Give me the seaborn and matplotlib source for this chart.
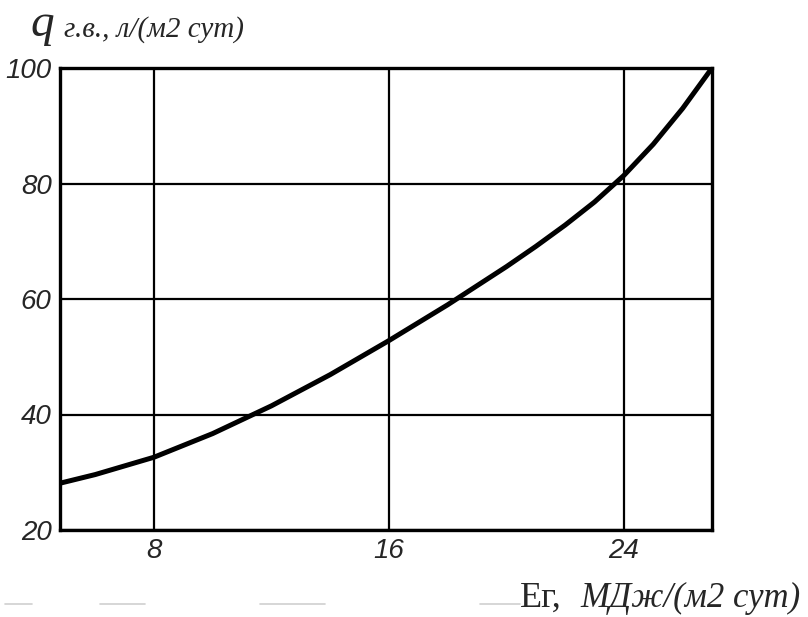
import numpy as np
import pandas as pd
import matplotlib
matplotlib.use("Agg")
import matplotlib.pyplot as plt
import seaborn as sns
from matplotlib.lines import Line2D

# values
energy = [4.8, 6.0, 8.0, 10.0, 12.0, 14.0, 16.0, 18.0, 20.0, 21.0,
          22.0, 23.0, 24.0, 25.0, 26.0, 27.0]
flow = [28.1, 29.6, 32.6, 36.7, 41.5, 46.9, 52.8, 59.0, 65.6, 69.1,
        72.8, 76.8, 81.4, 86.8, 93.0, 100.0]
x_ticks = [8, 16, 24]
y_ticks = [20, 40, 60, 80, 100]

df = pd.DataFrame({"E": energy, "q": flow})

sns.set_style("white")
plt.rcParams['font.family'] = ['Liberation Sans', 'DejaVu Sans']

fig = plt.figure(figsize=(8.08, 6.17), dpi=100)
ax = fig.add_axes([60 / 808, 1 - 530 / 617, 652 / 808, 462 / 617])

sns.lineplot(data=df, x="E", y="q", color="black", linewidth=3.6, ax=ax,
             solid_joinstyle="round")

ax.set_xlim(4.8, 27.0)
ax.set_ylim(20, 100)
ax.set_xticks(x_ticks)
ax.set_yticks(y_ticks)
ax.set_xticklabels([str(t) for t in x_ticks], fontsize=20, style="italic")
ax.set_yticklabels([str(t) for t in y_ticks], fontsize=20, style="italic")
ax.tick_params(length=0, pad=6)
ax.grid(True, color="black", linewidth=1.6)
for s in ax.spines.values():
    s.set_color("black")
    s.set_linewidth(2.4)
ax.set_xlabel("")
ax.set_ylabel("")

# axis captions
serif = ['Liberation Serif', 'DejaVu Serif']
fig.text(30 / 808, 1 - 36 / 617, "q", fontsize=34, style="italic",
         family=serif, ha="left", va="baseline")
fig.text(64 / 808, 1 - 37 / 617, "г.в., л/(м2 сут)", fontsize=21,
         style="italic", family=serif, ha="left", va="baseline")
fig.text(520 / 808, 1 - 607 / 617, "Ег,", fontsize=26, family=serif,
         ha="left", va="baseline")
fig.text(580 / 808, 1 - 607 / 617, "МДж/(м2 сут)", fontsize=25,
         style="italic", family=serif, ha="left", va="baseline")

# faint scan dashes along the bottom
for x0, x1 in [(5, 32), (100, 145), (260, 325), (480, 520)]:
    fig.add_artist(Line2D([x0 / 808, x1 / 808], [1 - 604 / 617] * 2,
                          color="#d0d0d0", linewidth=1.2))

fig.savefig("out.png", dpi=100, facecolor="white")
